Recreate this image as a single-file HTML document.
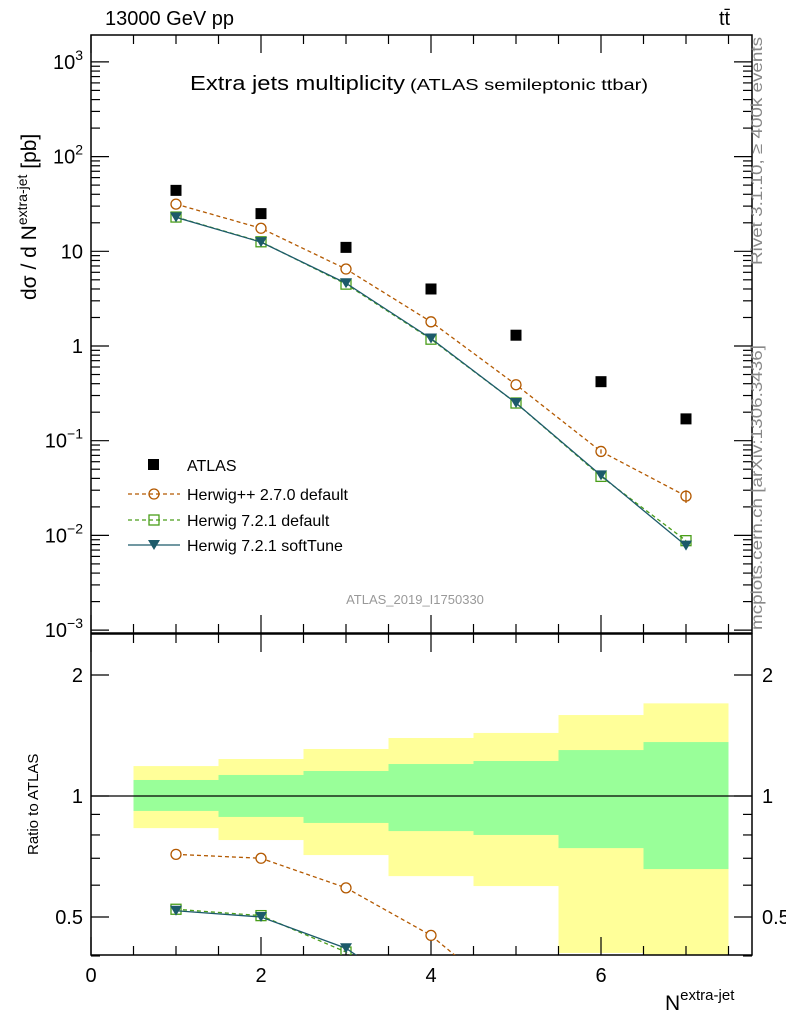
<!DOCTYPE html>
<html><head><meta charset="utf-8">
<style>
html,body{margin:0;background:#fff;overflow:hidden;width:786px;height:1024px;}
svg{display:block;font-family:"Liberation Sans",sans-serif;}
</style></head>
<body>
<svg id="chart" width="786" height="1024" viewBox="0 0 786 1024" xmlns="http://www.w3.org/2000/svg">
<defs>
<clipPath id="clipMain"><rect x="91" y="35" width="661" height="598"/></clipPath>
<clipPath id="clipRatio"><rect x="91" y="634" width="661" height="321"/></clipPath>
</defs>
<g id="ratioBands" clip-path="url(#clipRatio)"></g>
<g id="grid"></g>
<g id="marks"></g>
<text x="105" y="25" font-size="20">13000 GeV pp</text>
<text x="719" y="25" font-size="20">tt̄</text>
<text x="190" y="90" font-size="20" textLength="215" lengthAdjust="spacingAndGlyphs">Extra jets multiplicity</text>
<text x="410" y="90" font-size="16" textLength="238" lengthAdjust="spacingAndGlyphs">(ATLAS semileptonic ttbar)</text>
<text x="415" y="604" font-size="13" fill="#999" text-anchor="middle">ATLAS_2019_I1750330</text>
<text transform="translate(762,265) rotate(-90)" font-size="16" fill="#888" textLength="228" lengthAdjust="spacingAndGlyphs">Rivet 3.1.10, ≥ 400k events</text>
<text transform="translate(762,630) rotate(-90)" font-size="16" fill="#888" textLength="285" lengthAdjust="spacingAndGlyphs">mcplots.cern.ch [arXiv:1306.3436]</text>
<text transform="translate(36,300) rotate(-90)" font-size="21">dσ / d N<tspan dy="-9" font-size="14">extra-jet</tspan><tspan dy="9"> [pb]</tspan></text>
<text transform="translate(38,855) rotate(-90)" font-size="15">Ratio to ATLAS</text>
<text x="665" y="1010" font-size="21">N<tspan dy="-10" font-size="15">extra-jet</tspan></text>
<g font-size="16">
<rect x="148" y="459" width="11" height="11" fill="#000"/>
<text x="187" y="471">ATLAS</text>
<line x1="128" y1="494" x2="180" y2="494" stroke="#b35900" stroke-dasharray="4,3" stroke-width="1.3"/>
<circle cx="154" cy="494" r="5" fill="none" stroke="#b35900" stroke-width="1.3"/>
<text x="187" y="500">Herwig++ 2.7.0 default</text>
<line x1="128" y1="520" x2="180" y2="520" stroke="#4a9e1a" stroke-dasharray="4,3" stroke-width="1.3"/>
<rect x="149" y="515" width="10" height="10" fill="none" stroke="#4a9e1a" stroke-width="1.3"/>
<text x="187" y="526">Herwig 7.2.1 default</text>
<line x1="128" y1="545" x2="180" y2="545" stroke="#1c5a6a" stroke-width="1.3"/>
<path d="M148,540 L160,540 L154,550 Z" fill="#1c5a6a"/>
<text x="187" y="551">Herwig 7.2.1 softTune</text>
</g>
</svg>
<script>
const nj = [1,2,3,4,5,6,7];
const atlas = [44,25,11,4,1.3,0.42,0.17];
const herwigpp = [31.5,17.5,6.5,1.8,0.39,0.077,0.026];
const herwig7 = [23,12.6,4.5,1.18,0.25,0.042,0.0088];
const softTune = [22.8,12.5,4.6,1.2,0.25,0.043,0.0078];
const herwigppErr = [0,0,0,0,0,0.004,0.004];
const yellowHi = [1.187,1.236,1.309,1.394,1.435,1.59,1.70];
const yellowLo = [0.832,0.777,0.713,0.632,0.597,0.407,0.30];
const greenHi = [1.096,1.128,1.154,1.201,1.222,1.301,1.362];
const greenLo = [0.918,0.887,0.857,0.818,0.80,0.742,0.658];
const xTicks = [0,2,4,6];
const yTickExp = [-3,-2,-1,0,1,2,3];
const rTicks = [0.5,1,2];

const NS="http://www.w3.org/2000/svg";
const X = v => 91 + v*85;
const Y = v => 346 - Math.log10(v)*94.7;
const R = v => 796 - Math.log10(v)*402;
function mk(parent, tag, attrs){const e=document.createElementNS(NS,tag);for(const k in attrs)e.setAttribute(k,attrs[k]);parent.appendChild(e);return e;}
const bands=document.getElementById('ratioBands'), grid=document.getElementById('grid'), marks=document.getElementById('marks');

nj.forEach((n,i)=>{
  const y=mk(bands,'rect',{x:X(n-0.5),y:R(yellowHi[i]),width:85,height:R(yellowLo[i])-R(yellowHi[i]),fill:'#ffff99'});
  
  
  const g=mk(bands,'rect',{x:X(n-0.5),y:R(greenHi[i]),width:85,height:R(greenLo[i])-R(greenHi[i]),fill:'#99ff99'});
  
  
});

mk(grid,'rect',{x:91,y:35,width:661,height:598,fill:'none',stroke:'#000','stroke-width':1.5});
mk(grid,'rect',{x:91,y:634,width:661,height:321,fill:'none',stroke:'#000','stroke-width':1.5});
mk(grid,'line',{x1:91,y1:796,x2:752,y2:796,stroke:'#000','stroke-width':1.2});
for(let v=0;v<=7.75;v+=0.5){
  const big=Math.abs(v-Math.round(v/2)*2)<1e-6;
  const L=big?18:9;
  [[35,1],[633,-1],[634,1],[955,-1]].forEach(([y0,d])=>mk(grid,'line',{x1:X(v),y1:y0,x2:X(v),y2:y0+d*L,stroke:'#000','stroke-width':1.2}));
}
xTicks.forEach(v=>{const t=mk(grid,'text',{x:X(v),y:982,'font-size':20,'text-anchor':'middle'});t.textContent=v;

});
yTickExp.forEach(e=>{
  for(let m=1;m<10;m++){
    const y=Y(m*Math.pow(10,e)); if(y<35||y>633) continue;
    const L=m===1?18:9;
    mk(grid,'line',{x1:91,y1:y,x2:91+L,y2:y,stroke:'#000','stroke-width':1.2});
    mk(grid,'line',{x1:752,y1:y,x2:752-L,y2:y,stroke:'#000','stroke-width':1.2});
  }
  const t=mk(grid,'text',{x:83,y:Y(Math.pow(10,e))+7,'font-size':20,'text-anchor':'end'});
  if(e===0) t.textContent='1'; else if(e===1) t.textContent='10';
  else {t.textContent='10'; const s=mk(t,'tspan',{dy:-9,'font-size':14}); s.textContent=String(e).replace('-','−');}
  
  
});
[0.4,0.5,0.6,0.7,0.8,0.9,1,2].forEach(v=>{const y=R(v);const L=(v===0.5||v===1||v===2)?18:9;
  mk(grid,'line',{x1:91,y1:y,x2:91+L,y2:y,stroke:'#000','stroke-width':1.2});
  mk(grid,'line',{x1:752,y1:y,x2:752-L,y2:y,stroke:'#000','stroke-width':1.2});});
rTicks.forEach(v=>{
  const t=mk(grid,'text',{x:83,y:R(v)+7,'font-size':20,'text-anchor':'end'});t.textContent=v;
  
  
  const t2=mk(grid,'text',{x:762,y:R(v)+7,'font-size':20});t2.textContent=v;
  
  
});

function series(vals, ratio, color, dash, marker, name){
  [[false,'clipMain'],[true,'clipRatio']].forEach(([isR,clip])=>{
    const g=mk(marks,'g',{'clip-path':`url(#${clip})`});
    
    
    const pts=nj.map((n,i)=>[X(n), isR?R(vals[i]/atlas[i]):Y(vals[i])]);
    const p=mk(g,'polyline',{points:pts.map(p=>p.join(',')).join(' '),fill:'none',stroke:color,'stroke-width':1.3});
    if(dash) p.setAttribute('stroke-dasharray','4,3');
    pts.forEach(([x,y])=>{
      let m;
      if(marker==='circle') m=mk(g,'circle',{cx:x,cy:y,r:5,fill:'#fff',stroke:color,'stroke-width':1.3});
      else if(marker==='square') m=mk(g,'rect',{x:x-5,y:y-5,width:10,height:10,fill:'none',stroke:color,'stroke-width':1.3});
      else m=mk(g,'path',{d:`M${x-6},${y-5} L${x+6},${y-5} L${x},${y+5} Z`,fill:color});
      
      
    });
  });
}
series(herwigpp,true,'#b35900',true,'circle','herwigpp');
series(herwig7,true,'#4a9e1a',true,'square','herwig7-default');
series(softTune,true,'#1c5a6a',false,'tri','herwig7-softtune');
nj.forEach((n,i)=>{ if(!herwigppErr[i]) return;
  const l=mk(marks,'line',{x1:X(n),x2:X(n),y1:Y(herwigpp[i]+herwigppErr[i]),y2:Y(herwigpp[i]-herwigppErr[i]),stroke:'#b35900','stroke-width':1.3});
  
  });
nj.forEach((n,i)=>{const r=mk(marks,'rect',{x:X(n)-5.5,y:Y(atlas[i])-5.5,width:11,height:11,fill:'#000'});
  
  });
</script>
</body></html>
